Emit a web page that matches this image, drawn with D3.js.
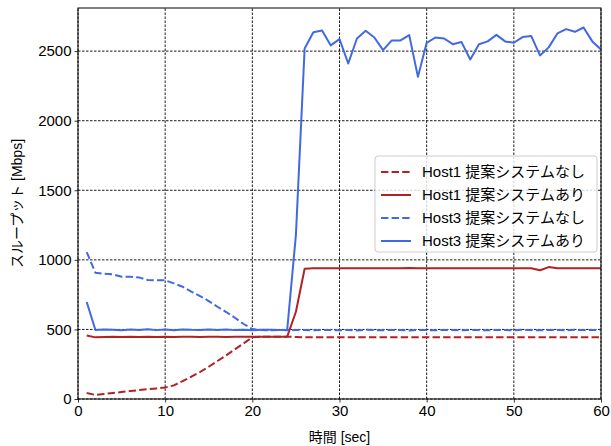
<!DOCTYPE html>
<html lang="ja">
<head>
<meta charset="utf-8">
<title>スループット</title>
<script src="https://cdn.jsdelivr.net/npm/d3@7"></script>
<style>
  body { margin: 0; background: #fff; }
  text { font-family: "Liberation Sans", "Noto Sans CJK JP", sans-serif; fill: #000; }
</style>
</head>
<body>
<script>
// time axis (sec)
var times = d3.range(1, 61);

// Host1 without proposed system
var host1Off = [43, 29, 36, 43, 50, 57, 64, 70, 76, 83,
                98, 129, 160, 194, 232, 273, 314, 357, 400, 443,
                448, 447, 448, 448, 445, 443, 443, 444, 443, 444,
                443, 443, 444, 443, 443, 444, 443, 443, 444, 443,
                443, 443, 444, 443, 443, 443, 444, 443, 443, 443,
                444, 443, 443, 443, 444, 443, 443, 443, 444, 443];
// Host1 with proposed system
var host1On = [457, 443, 446, 447, 445, 447, 446, 448, 446, 447,
               446, 448, 447, 446, 448, 447, 446, 448, 447, 448,
               447, 448, 447, 448, 627, 936, 939, 940, 939, 940,
               940, 939, 940, 940, 939, 940, 940, 941, 940, 939,
               940, 940, 939, 940, 940, 940, 939, 940, 940, 940,
               939, 940, 925, 948, 940, 939, 940, 940, 940, 940];
// Host3 without proposed system
var host3Off = [1056, 907, 900, 896, 879, 879, 874, 855, 853, 853,
                831, 807, 771, 740, 704, 663, 625, 584, 539, 503,
                495, 493, 496, 494, 495, 496, 494, 497, 495, 494,
                496, 493, 497, 495, 494, 496, 495, 493, 497, 495,
                494, 496, 495, 494, 497, 495, 494, 496, 495, 494,
                497, 495, 494, 496, 495, 494, 497, 495, 496, 497];
// Host3 with proposed system
var host3On = [697, 496, 500, 498, 494, 500, 496, 501, 495, 499,
               494, 500, 497, 496, 500, 496, 500, 495, 498, 494,
               497, 498, 496, 497, 1180, 2519, 2636, 2648, 2541, 2586,
               2411, 2591, 2646, 2598, 2507, 2577, 2577, 2615, 2315, 2560,
               2598, 2591, 2550, 2565, 2440, 2550, 2570, 2617, 2570, 2560,
               2601, 2608, 2469, 2527, 2627, 2658, 2639, 2670, 2570, 2512];

var series = [
  { name: "Host1 提案システムなし", values: host1Off, color: "#b22222", dash: "7.4,3.2" },
  { name: "Host1 提案システムあり", values: host1On, color: "#b22222", dash: null },
  { name: "Host3 提案システムなし", values: host3Off, color: "#4169e1", dash: "7.4,3.2" },
  { name: "Host3 提案システムあり", values: host3On, color: "#4169e1", dash: null }
];

var xTicks = [0, 10, 20, 30, 40, 50, 60];
var yTicks = [0, 500, 1000, 1500, 2000, 2500];

var w = 611, h = 446;
var margin = { left: 78, right: 10, top: 8, bottom: 47 };

var svg = d3.select("body").append("svg")
  .attr("width", w)
  .attr("height", h);

var x = d3.scaleLinear().domain([0, 60]).range([margin.left, w - margin.right]);
var y = d3.scaleLinear().domain([0, 2810]).range([h - margin.bottom, margin.top]);

// grid
var grid = svg.append("g");
grid.selectAll(".gx").data(xTicks).enter().append("line")
  .attr("x1", d => x(d)).attr("x2", d => x(d))
  .attr("y1", y(0)).attr("y2", y(2810))
  .attr("stroke", "#000").attr("stroke-width", 0.9)
  .attr("stroke-dasharray", "2.5,1.5");
grid.selectAll(".gy").data(yTicks).enter().append("line")
  .attr("x1", x(0)).attr("x2", x(60))
  .attr("y1", d => y(d)).attr("y2", d => y(d))
  .attr("stroke", "#000").attr("stroke-width", 0.9)
  .attr("stroke-dasharray", "2.5,1.5");

// lines
var line = d3.line()
  .x((d, i) => x(times[i]))
  .y(d => y(d));

var clip = svg.append("clipPath").attr("id", "clip").append("rect")
  .attr("x", x(0)).attr("y", y(2810))
  .attr("width", x(60) - x(0)).attr("height", y(0) - y(2810));

svg.append("g").attr("clip-path", "url(#clip)")
  .selectAll("path").data(series).enter().append("path")
  .attr("d", d => line(d.values))
  .attr("fill", "none")
  .attr("stroke", d => d.color)
  .attr("stroke-width", 2)
  .attr("stroke-linejoin", "round")
  .attr("stroke-dasharray", d => d.dash);

// axes
var xAxis = svg.append("g")
  .attr("transform", "translate(0," + y(0) + ")")
  .call(d3.axisBottom(x).tickValues(xTicks).tickFormat(d3.format("d")).tickSize(3.5).tickPadding(3));
var yAxis = svg.append("g")
  .attr("transform", "translate(" + x(0) + ",0)")
  .call(d3.axisLeft(y).tickValues(yTicks).tickFormat(d3.format("d")).tickSize(3.5).tickPadding(3));
[xAxis, yAxis].forEach(function(a) {
  a.select(".domain").remove();
  a.selectAll("text").style("font-size", "15px")
    .style("font-family", "\"Liberation Sans\", \"Noto Sans CJK JP\", sans-serif");
  a.selectAll("line").attr("stroke", "#000").attr("stroke-width", 0.8);
});

// frame
svg.append("rect")
  .attr("x", x(0)).attr("y", y(2810))
  .attr("width", x(60) - x(0)).attr("height", y(0) - y(2810))
  .attr("fill", "none").attr("stroke", "#000").attr("stroke-width", 1);

// axis labels
svg.append("text")
  .attr("x", x(30)).attr("y", 442)
  .attr("text-anchor", "middle")
  .style("font-size", "14px")
  .text("時間 [sec]");
svg.append("text")
  .attr("transform", "translate(22," + y(1405) + ") rotate(-90)")
  .attr("text-anchor", "middle")
  .style("font-size", "14px")
  .text("スループット [Mbps]");

// legend
var lg = svg.append("g").attr("transform", "translate(375,156)");
lg.append("rect")
  .attr("width", 222).attr("height", 96)
  .attr("rx", 3)
  .attr("fill", "#fff").attr("fill-opacity", 0.8)
  .attr("stroke", "#ccc").attr("stroke-width", 1);
var items = lg.selectAll(".item").data(series).enter().append("g")
  .attr("transform", (d, i) => "translate(0," + (16 + i * 23) + ")");
items.append("line")
  .attr("x1", 6).attr("x2", 36)
  .attr("stroke", d => d.color)
  .attr("stroke-width", 2)
  .attr("stroke-dasharray", d => d.dash);
items.append("text")
  .attr("x", 47).attr("dy", "0.35em")
  .style("font-size", "15px")
  .text(d => d.name);
</script>
</body>
</html>
